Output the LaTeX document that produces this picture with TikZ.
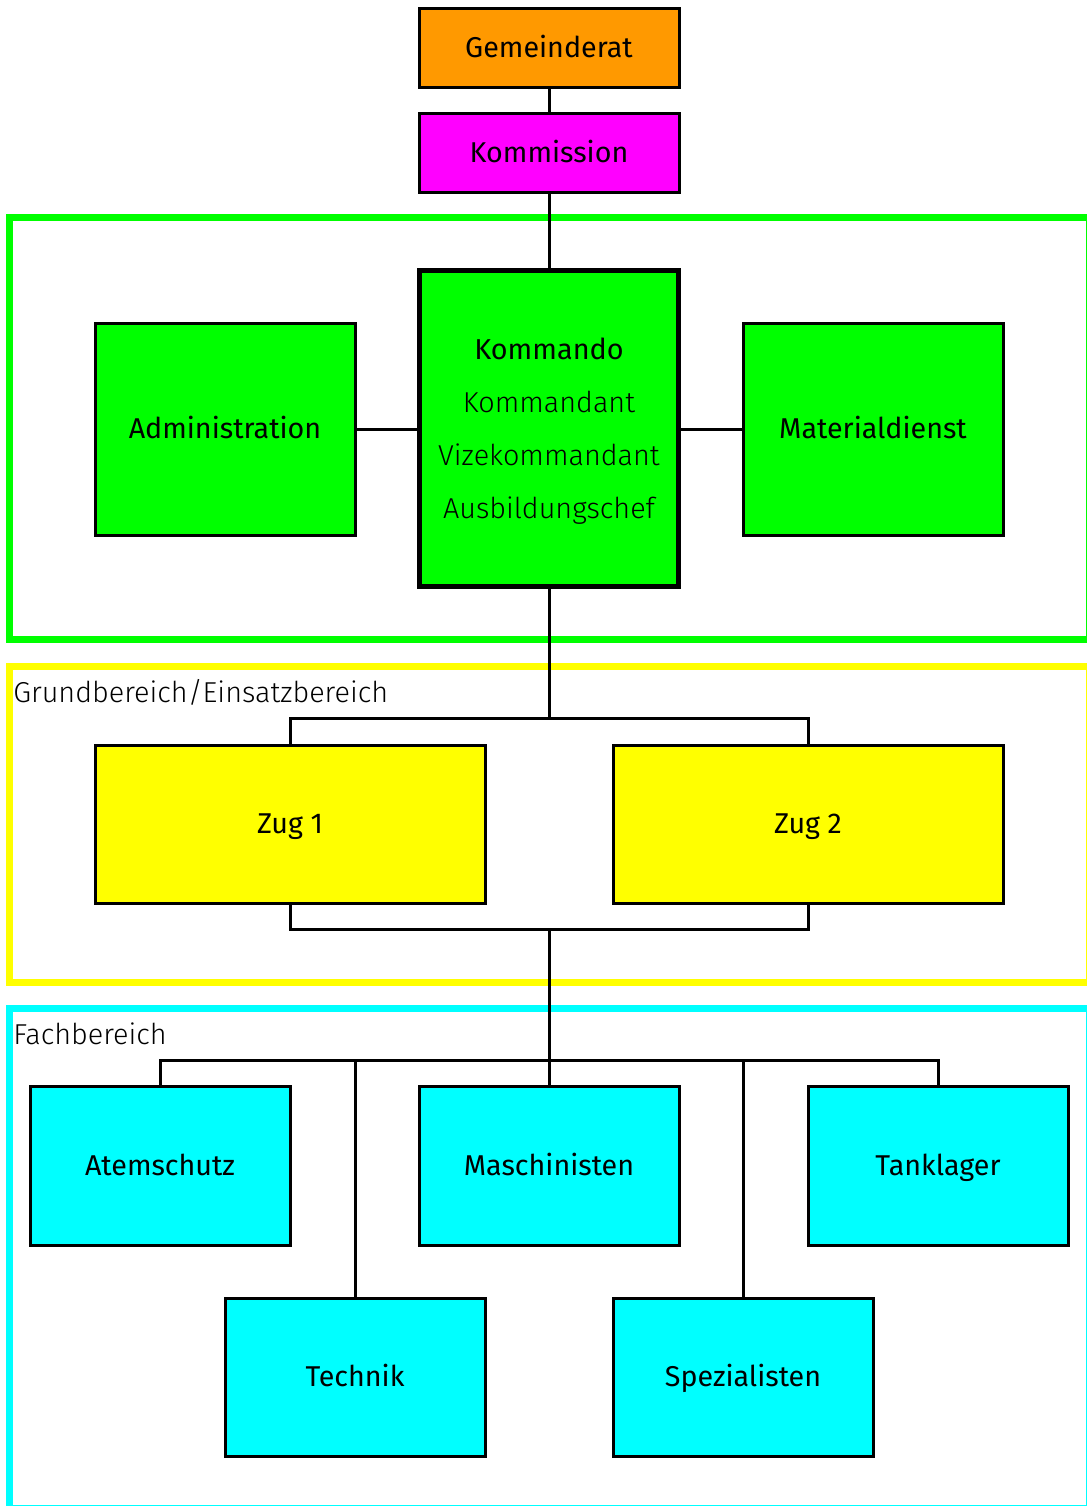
\documentclass[tikz,border=0pt]{standalone}
\usepackage{fontspec}
\setmainfont{Fira Sans}
\newfontfamily\lightfont{Fira Sans Light}
\begin{document}
\begin{tikzpicture}[x=0.75pt,y=-0.75pt,
  box/.style={draw=black,line width=2.25pt,rectangle,inner sep=0pt,
    font=\fontsize{21.5}{26}\selectfont,text height=14.8pt,text depth=0pt},
  conn/.style={draw=black,line width=2.25pt},
  frame/.style={line width=5.25pt},
  lbl/.style={anchor=west,inner sep=0pt,font=\lightfont\fontsize{21.6}{26}\selectfont}]
\useasboundingbox (0,0) rectangle (1087,1506);
% frames
\draw[frame,draw={rgb,255:red,0;green,255;blue,0}] (9,217.5) rectangle (1089,639.5);
\draw[frame,draw={rgb,255:red,255;green,255;blue,0}] (9,666) rectangle (1089,982);
\draw[frame,draw={rgb,255:red,0;green,255;blue,255}] (9,1008) rectangle (1089,1508);
% boxes
\node[box,fill={rgb,255:red,255;green,153;blue,0},minimum width=260*0.75pt,minimum height=79*0.75pt] (gem) at (549,47.5) {Gemeinderat};
\node[box,fill={rgb,255:red,255;green,0;blue,255},minimum width=260*0.75pt,minimum height=79*0.75pt] (kom) at (549,152.5) {Kommission};
\node[box,line width=3.75pt,fill={rgb,255:red,0;green,255;blue,0},minimum width=259*0.75pt,minimum height=316*0.75pt,align=center,font=\fontsize{21.6}{39.75}\selectfont,text height=,text depth=0pt] (kdo) at (549,428) {Kommando\\{\lightfont Kommandant}\\{\lightfont Vizekommandant}\\{\lightfont Ausbildungschef}};
\node[box,fill={rgb,255:red,0;green,255;blue,0},minimum width=260*0.75pt,minimum height=212*0.75pt] (adm) at (225,429) {Administration};
\node[box,fill={rgb,255:red,0;green,255;blue,0},minimum width=260*0.75pt,minimum height=212*0.75pt] (mat) at (873,429) {Materialdienst};
\node[box,fill={rgb,255:red,255;green,255;blue,0},minimum width=390*0.75pt,minimum height=158*0.75pt] (zug1) at (290,824) {Zug 1};
\node[box,fill={rgb,255:red,255;green,255;blue,0},minimum width=390*0.75pt,minimum height=158*0.75pt] (zug2) at (808,824) {Zug 2};
\node[box,fill={rgb,255:red,0;green,255;blue,255},minimum width=260*0.75pt,minimum height=159*0.75pt] (atem) at (160,1165.5) {Atemschutz};
\node[box,fill={rgb,255:red,0;green,255;blue,255},minimum width=260*0.75pt,minimum height=159*0.75pt] (masch) at (549,1165.5) {Maschinisten};
\node[box,fill={rgb,255:red,0;green,255;blue,255},minimum width=260*0.75pt,minimum height=159*0.75pt] (tank) at (938,1165.5) {Tanklager};
\node[box,fill={rgb,255:red,0;green,255;blue,255},minimum width=260*0.75pt,minimum height=158*0.75pt] (tech) at (355,1377) {Technik};
\node[box,fill={rgb,255:red,0;green,255;blue,255},minimum width=260*0.75pt,minimum height=158*0.75pt] (spez) at (743,1377) {Spezialisten};
% labels
\node[lbl] (lgrund) at (13,692) {Grundbereich/Einsatzbereich};
\node[lbl] (lfach) at (13,1034) {Fachbereich};
% junctions
\coordinate (j1) at (549,718);
\coordinate (j2) at (549,929);
\coordinate (j3) at (549,1060);
% connectors
\draw[conn] (gem.south) -- (kom.north);
\draw[conn] (kom.south) -- (kdo.north);
\draw[conn] (adm.east) -- (adm.east -| kdo.west);
\draw[conn] (mat.west -| kdo.east) -- (mat.west);
\draw[conn] (kdo.south) -- (j1);
\draw[conn] (zug1.north) -- (zug1.north |- j1) -- (zug2.north |- j1) -- (zug2.north);
\draw[conn] (zug1.south) -- (zug1.south |- j2) -- (zug2.south |- j2) -- (zug2.south);
\draw[conn] (j2) -- (j3);
\draw[conn] (atem.north) -- (atem.north |- j3) -- (tank.north |- j3) -- (tank.north);
\draw[conn] (j3) -- (masch.north);
\draw[conn] (tech.north) -- (tech.north |- j3);
\draw[conn] (spez.north) -- (spez.north |- j3);
\end{tikzpicture}
\end{document}
